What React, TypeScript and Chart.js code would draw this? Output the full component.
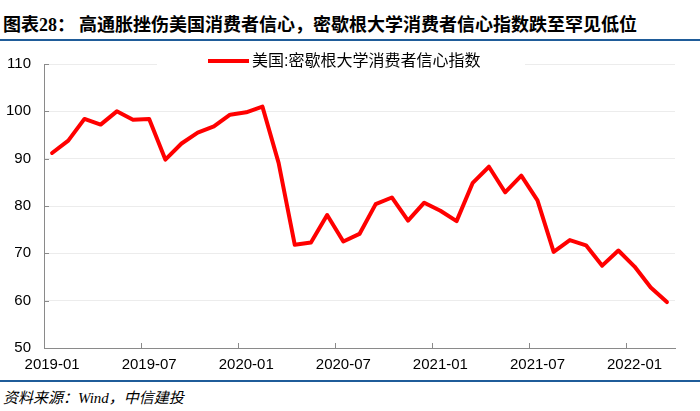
import React, { useEffect, useRef } from "react";
import { Chart, registerables } from "chart.js";

Chart.register(...registerables);

const months: string[] = [
  "2019-01", "2019-02", "2019-03", "2019-04", "2019-05", "2019-06",
  "2019-07", "2019-08", "2019-09", "2019-10", "2019-11", "2019-12",
  "2020-01", "2020-02", "2020-03", "2020-04", "2020-05", "2020-06",
  "2020-07", "2020-08", "2020-09", "2020-10", "2020-11", "2020-12",
  "2021-01", "2021-02", "2021-03", "2021-04", "2021-05", "2021-06",
  "2021-07", "2021-08", "2021-09", "2021-10", "2021-11", "2021-12",
  "2022-01", "2022-02", "2022-03",
];

const sentiment: number[] = [
  91.2, 93.8, 98.4, 97.2, 100.0, 98.2, 98.4, 89.8, 93.2, 95.5, 96.8, 99.3,
  99.8, 101.0, 89.1, 71.8, 72.3, 78.1, 72.5, 74.1, 80.4, 81.8, 76.9, 80.7,
  79.0, 76.8, 84.9, 88.3, 82.9, 86.4, 81.2, 70.3, 72.8, 71.7, 67.4, 70.6,
  67.2, 62.8, 59.7,
];

const seriesName = "美国:密歇根大学消费者信心指数";
const titlePrefix = "图表";
const titleNumber = "28";
const titleText = "高通胀挫伤美国消费者信心，密歇根大学消费者信心指数跌至罕见低位";
const sourceText = "资料来源：Wind，中信建投";

const yMin = 50;
const yMax = 110;
const yStep = 10;
const labelEvery = 6;

const axisColor = "#8a8a8a";
const gridColor = "#ececec";
const lineColor = "#ff0000";
const ruleColor = "#1f5c99";

const innerTicksPlugin = {
  id: "innerTicks",
  afterDraw(chart: any) {
    const ctx = chart.ctx;
    const xs = chart.scales.x;
    const ys = chart.scales.y;
    const area = chart.chartArea;
    ctx.save();
    ctx.strokeStyle = axisColor;
    ctx.lineWidth = 1;
    ys.ticks.forEach((t: any) => {
      const y = Math.round(ys.getPixelForValue(t.value)) + 0.5;
      ctx.beginPath();
      ctx.moveTo(area.left, y);
      ctx.lineTo(area.left + 5, y);
      ctx.stroke();
    });
    const half = (xs.getPixelForValue(1) - xs.getPixelForValue(0)) / 2;
    for (let i = labelEvery; i < months.length; i += labelEvery) {
      const x = Math.round(xs.getPixelForValue(i) - half) + 0.5;
      ctx.beginPath();
      ctx.moveTo(x, area.bottom);
      ctx.lineTo(x, area.bottom - 5);
      ctx.stroke();
    }
    ctx.restore();
  },
};

const legendPlugin = {
  id: "insideLegend",
  afterDraw(chart: any) {
    const ctx = chart.ctx;
    const area = chart.chartArea;
    const ds = chart.data.datasets[0];
    const cy = area.top - 3;
    ctx.save();
    ctx.fillStyle = "#ffffff";
    ctx.fillRect(area.left + 113, cy - 9, 368, 18);
    const lx = area.left + 164;
    ctx.strokeStyle = ds.borderColor;
    ctx.lineWidth = 4;
    ctx.beginPath();
    ctx.moveTo(lx, cy);
    ctx.lineTo(lx + 41, cy);
    ctx.stroke();
    ctx.fillStyle = "#000000";
    ctx.font = '16px "Liberation Sans", "Noto Sans CJK SC", sans-serif';
    ctx.textBaseline = "middle";
    ctx.textAlign = "left";
    ctx.fillText(ds.label, lx + 44, cy + 1);
    ctx.restore();
  },
};

export default function App() {
  const canvasRef = useRef<HTMLCanvasElement | null>(null);

  useEffect(() => {
    if (!canvasRef.current) return;
    const chart = new Chart(canvasRef.current, {
      type: "line",
      data: {
        labels: months,
        datasets: [
          {
            label: seriesName,
            data: sentiment,
            borderColor: lineColor,
            backgroundColor: lineColor,
            borderWidth: 4,
            pointRadius: 0,
            tension: 0,
            fill: false,
            borderJoinStyle: "round",
            borderCapStyle: "round",
          },
        ],
      },
      options: {
        responsive: false,
        animation: false,
        layout: { padding: { top: 19, right: 25, bottom: 0, left: 0 } },
        plugins: {
          legend: { display: false },
          tooltip: { enabled: false },
          title: { display: false },
        },
        scales: {
          x: {
            type: "category",
            offset: true,
            grid: { display: false, drawTicks: false },
            border: { display: true, color: axisColor, width: 1 },
            ticks: {
              autoSkip: false,
              maxRotation: 0,
              minRotation: 0,
              padding: 8,
              color: "#000000",
              font: { family: '"Liberation Sans", Arial, sans-serif', size: 15 },
              callback: (_v: any, i: number) => (i % labelEvery === 0 ? months[i] : ""),
            },
            afterFit: (s: any) => {
              s.height = 31;
            },
          },
          y: {
            min: yMin,
            max: yMax,
            grid: { color: gridColor, drawTicks: false, lineWidth: 1 },
            border: { display: true, color: axisColor, width: 1 },
            ticks: {
              stepSize: yStep,
              padding: 13,
              color: "#000000",
              font: { family: '"Liberation Sans", Arial, sans-serif', size: 15 },
            },
            afterFit: (s: any) => {
              s.width = 44;
            },
          },
        },
      },
      plugins: [innerTicksPlugin, legendPlugin],
    } as any);
    return () => chart.destroy();
  }, []);

  return (
    <div
      style={{
        position: "absolute",
        left: 0,
        top: 0,
        width: 700,
        height: 411,
        background: "#ffffff",
        overflow: "hidden",
      }}
    >
      <div
        style={{
          position: "absolute",
          left: 3,
          top: 13,
          whiteSpace: "nowrap",
          fontFamily: '"Noto Sans CJK SC", sans-serif',
          fontWeight: 700,
          fontSize: 18,
          lineHeight: "20px",
          color: "#000000",
        }}
      >
        {titlePrefix}
        <span style={{ fontFamily: '"Liberation Serif", serif' }}>{titleNumber}</span>
        {"："}
        <span style={{ marginLeft: 4 }}>{titleText}</span>
      </div>
      <div
        style={{
          position: "absolute",
          left: 0,
          top: 39,
          width: 700,
          height: 2,
          background: ruleColor,
        }}
      />
      <canvas
        ref={canvasRef}
        width={700}
        height={337}
        style={{ position: "absolute", left: 0, top: 42, width: 700, height: 337 }}
      />
      <div
        style={{
          position: "absolute",
          left: 0,
          top: 380,
          width: 700,
          height: 2,
          background: ruleColor,
        }}
      />
      <div
        style={{
          position: "absolute",
          left: 3,
          top: 389,
          whiteSpace: "nowrap",
          fontFamily: '"Liberation Serif", "Noto Sans CJK SC", serif',
          fontStyle: "italic",
          fontSize: 15,
          lineHeight: "18px",
          color: "#000000",
        }}
      >
        {sourceText}
      </div>
    </div>
  );
}
